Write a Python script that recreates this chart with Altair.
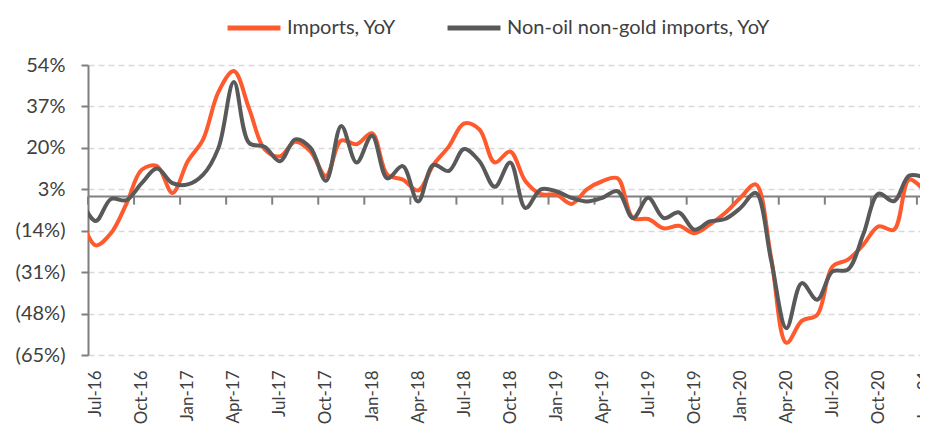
import altair as alt
import pandas as pd

# Month labels (Jun-16 .. Jan-21); Jun-16 lies just left of the axis and is clipped
months = [d.strftime("%b-%y") for d in pd.date_range("2016-06-01", "2021-01-01", freq="MS")]

imports_yoy = [-8, -20, -15, -3, 11, 12.5, 1.5, 14.5, 23.5, 43, 51.5,
               36, 19.5, 16.5, 22.5, 18.5, 8.5, 23, 21.5, 26, 9, 7,
               2.5, 13, 20.5, 30, 27.5, 14, 18.5, 6.3, 1, 0.8, -3,
               3, 6.3, 7.5, -8.8, -9.2, -13, -12, -15, -11.5, -6.7,
               -0.5, 5, -25, -60, -51, -48.5, -28.7, -25.9, -19.8, -12.2,
               -13.6, 7, 2.2]

non_oil_gold_yoy = [-1, -10, -1, -1.5, 5.5, 11.5, 5.5, 5, 9, 20, 47,
                    22, 20.5, 14.5, 23.5, 20, 6.5, 29, 14, 25, 7.5, 12.5,
                    -2, 13, 10.5, 19.5, 14.5, 4, 14, -4.7, 3, 2.2, -0.5,
                    -2, -0.5, 2.2, -8.8, -0.5, -8.8, -6.5, -13.6, -10.2, -9.2,
                    -4.7, 1.5, -26, -54, -35.5, -42.3, -30.7, -30, -15.6, 1.2,
                    -1.9, 8.6, 7.7]

series_names = ["Imports, YoY", "Non-oil non-gold imports, YoY"]
series_colors = ["#FF5A2E", "#595959"]

y_ticks = [-65, -48, -31, -14, 3, 20, 37, 54]
x_tick_labels = ["Jul-16", "Oct-16", "Jan-17", "Apr-17", "Jul-17", "Oct-17", "Jan-18",
                 "Apr-18", "Jul-18", "Oct-18", "Jan-19", "Apr-19", "Jul-19", "Oct-19",
                 "Jan-20", "Apr-20", "Jul-20", "Oct-20", "Jan-21"]

# month position: Jul-16 category spans [0,1], points at category centres
pos = [i - 1 + 0.5 for i in range(len(months))]
rows = []
for name, vals in zip(series_names, [imports_yoy, non_oil_gold_yoy]):
    for m, p, v in zip(months, pos, vals):
        rows.append({"month": m, "pos": p, "value": v, "series": name})
df = pd.DataFrame(rows)

tick_pos = [3 * i for i in range(len(x_tick_labels))]
ticks_df = pd.DataFrame({"pos": tick_pos, "y0": 0, "y1": -3.3})

FONT = "Lato"
x_domain = [0, 54.2]
y_domain = [-65, 54]

label_arr = "[" + ",".join("'" + s + "'" for s in x_tick_labels) + "]"
x_axis = alt.Axis(values=tick_pos, labelExpr=label_arr + "[round(datum.value/3)]",
                  domain=False, ticks=False, grid=False, labelAngle=-90,
                  labelAlign="right", labelBaseline="middle", labelPadding=15,
                  labelOffset=7.7, labelFlush=False, labelOverlap=False,
                  labelFont=FONT, labelFontSize=17, labelColor="#404040", title=None)
y_axis = alt.Axis(values=y_ticks,
                  labelExpr="datum.value < 0 ? '(' + abs(datum.value) + '%)' : datum.value + '%'",
                  domain=True, domainColor="#7F7F7F", domainWidth=2,
                  ticks=True, tickColor="#7F7F7F", tickSize=7, tickWidth=2,
                  grid=True, gridColor="#D9D9D9", gridDash=[6, 4], gridWidth=1.5,
                  labelFont=FONT, labelFontSize=20, labelColor="#404040",
                  labelPadding=16, title=None)

xs = alt.Scale(domain=x_domain, nice=False, zero=False)
ys = alt.Scale(domain=y_domain, nice=False, zero=False)

zero_line = alt.Chart(pd.DataFrame({"y": [0]})).mark_rule(
    color="#808080", strokeWidth=2).encode(
    y=alt.Y("y:Q", scale=ys, axis=y_axis))

tick_marks = alt.Chart(ticks_df).mark_rule(color="#808080", strokeWidth=2).encode(
    x=alt.X("pos:Q", scale=xs, axis=x_axis),
    y=alt.Y("y0:Q", scale=ys, axis=y_axis),
    y2="y1:Q")

lines = alt.Chart(df).mark_line(
    interpolate="catmull-rom", strokeWidth=4, clip=True).encode(
    x=alt.X("pos:Q", scale=xs, axis=x_axis),
    y=alt.Y("value:Q", scale=ys, axis=y_axis),
    color=alt.Color("series:N",
                    scale=alt.Scale(domain=series_names, range=series_colors),
                    legend=alt.Legend(title=None, orient="none", direction="horizontal",
                                      legendX=137, legendY=-66, symbolType="stroke",
                                      symbolSize=2800, symbolStrokeWidth=5,
                                      labelFont=FONT, labelFontSize=20,
                                      labelColor="#404040", columnPadding=40,
                                      labelOffset=4, labelLimit=0, padding=0)),
    order=alt.Order("pos:Q"))

chart = alt.layer(zero_line, tick_marks, lines).properties(
    width=832, height=290,
    autosize=alt.AutoSizeParams(type="none"),
    padding={"left": 80, "top": 57, "right": 0, "bottom": 71},
).configure_view(stroke=None)

chart.save("out.html", embed_options={"renderer": "svg", "actions": False})
